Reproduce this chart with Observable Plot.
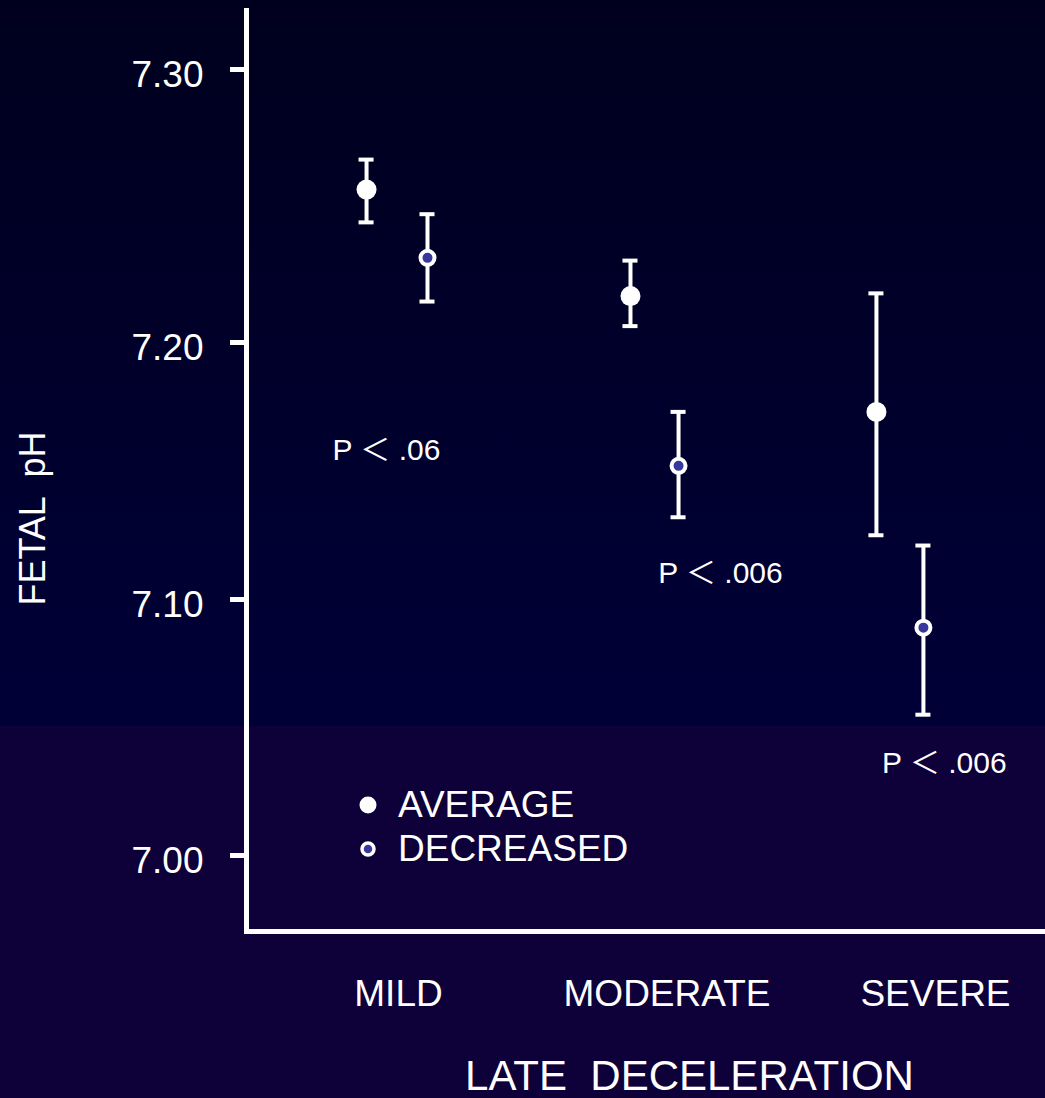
<!DOCTYPE html>
<html>
<head>
<meta charset="utf-8">
<script src="https://cdn.jsdelivr.net/npm/d3@7"></script>
<script src="https://cdn.jsdelivr.net/npm/@observablehq/plot@0.6"></script>
<style>
  html, body { margin: 0; padding: 0; }
  body {
    width: 1045px; height: 1098px; overflow: hidden; position: relative;
    background: linear-gradient(to bottom, #00001e 0px, #000038 726px, #0e0038 726px, #0e0038 1098px);
    font-family: "Liberation Sans", Arial, sans-serif; color: white;
  }
  #chart { position: absolute; left: 0; top: 0; }
  #legend { position: absolute; left: 358px; top: 783px; }
  .row { display: flex; align-items: center; height: 44px; line-height: 44px; font-size: 37px; }
  .row svg { margin-right: 20px; }
</style>
</head>
<body>
<div id="chart"></div>
<div id="legend"></div>
<script>
// ---- data ----
const categories = ["MILD", "MODERATE", "SEVERE"];
const categoryTicks = [1, 2, 3];
const series = ["AVERAGE", "DECREASED"];

// x position (in category units) of each plotted point
const avgX = [0.881, 1.864, 2.780];
const decX = [1.108, 2.043, 2.955];

// fetal pH mean and error-bar ends
const avgMean = [7.256, 7.217, 7.173];
const avgLow  = [7.244, 7.206, 7.125];
const avgHigh = [7.267, 7.230, 7.218];
const decMean = [7.231, 7.152, 7.089];
const decLow  = [7.215, 7.132, 7.055];
const decHigh = [7.247, 7.173, 7.121];

// significance annotations
const pLabels = ["P \uFF1C .06", "P \uFF1C .006", "P \uFF1C .006"];
const pX = [0.955, 2.199, 3.033];
const pY = [7.158, 7.110, 7.036];

const yTicks = [7.00, 7.10, 7.20, 7.30];
// the original axis is drawn with slightly uneven tick spacing
const yTickSpacing = [0, 256, 513, 786];

// ---- tables ----
const avg = categories.map((c, i) => ({cat: c, x: avgX[i], mean: avgMean[i], low: avgLow[i], high: avgHigh[i]}));
const dec = categories.map((c, i) => ({cat: c, x: decX[i], mean: decMean[i], low: decLow[i], high: decHigh[i]}));
const both = avg.concat(dec);
const ann = pLabels.map((t, i) => ({text: t, x: pX[i], y: pY[i]}));

const warp = d3.scaleLinear().domain(yTicks).range(yTickSpacing);

const capHalf = 0.028;
const font = "Liberation Sans, Arial, sans-serif";
const blue = "#38389c";

const chart = Plot.plot({
  width: 1045,
  height: 1098,
  marginLeft: 246,
  marginRight: 0,
  marginTop: 10,
  marginBottom: 167,
  style: {background: "transparent", color: "white", fontFamily: font, overflow: "visible"},
  x: {domain: [1, 3], range: [398, 935]},
  y: {transform: v => warp(v), domain: [0, 786], range: [855, 69]},
  marks: [
    Plot.frame({anchor: "left", stroke: "white", strokeWidth: 5}),
    Plot.frame({anchor: "bottom", stroke: "white", strokeWidth: 5}),
    // tick marks
    Plot.axisY({ticks: yTicks.map(warp), tickFormat: () => "", tickSize: 16, strokeWidth: 5, label: null}),
    // tick labels (sit slightly below their ticks in the original)
    Plot.axisY({ticks: yTicks.map(warp), tickFormat: d => warp.invert(d).toFixed(2), tickSize: 0, tickPadding: 43,
      fontSize: 37, label: null, dy: 6}),
    Plot.axisX({ticks: categoryTicks, tickFormat: d => categories[d - 1], tickSize: 0, tickPadding: 48,
      fontSize: 37, label: null}),
    Plot.text(["FETAL  pH"], {frameAnchor: "left", rotate: -90, dx: -213, dy: 47.5,
      fontSize: 36, lineAnchor: "middle", textAnchor: "middle", fill: "white"}),
    Plot.text(["LATE  DECELERATION"], {frameAnchor: "bottom", dx: 43.5, dy: 145,
      fontSize: 42, lineAnchor: "middle", textAnchor: "middle", fill: "white"}),
    // error bars
    Plot.ruleX(both, {x: "x", y1: "low", y2: "high", stroke: "white", strokeWidth: 4}),
    Plot.ruleY(both, {y: "high", x1: d => d.x - capHalf, x2: d => d.x + capHalf, stroke: "white", strokeWidth: 4}),
    Plot.ruleY(both, {y: "low", x1: d => d.x - capHalf, x2: d => d.x + capHalf, stroke: "white", strokeWidth: 4}),
    // points
    Plot.dot(avg, {x: "x", y: "mean", r: 10, fill: "white", stroke: "none"}),
    Plot.dot(dec, {x: "x", y: "mean", r: 7, fill: blue, stroke: "white", strokeWidth: 4}),
    // annotations
    Plot.text(ann, {x: "x", y: "y", text: "text", fontSize: 30, fill: "white", lineAnchor: "middle", textAnchor: "middle",
      fontFamily: "Liberation Sans, Noto Sans CJK JP, sans-serif"})
  ]
});
document.getElementById("chart").appendChild(chart);

// legend
const legend = document.getElementById("legend");
series.forEach((s, i) => {
  const row = document.createElement("div");
  row.className = "row";
  const sw = i === 0
    ? `<svg width="20" height="20"><circle cx="10" cy="10" r="8.5" fill="white"/></svg>`
    : `<svg width="20" height="20"><circle cx="10" cy="10" r="6" fill="${blue}" stroke="white" stroke-width="3.5"/></svg>`;
  row.innerHTML = sw + `<span>${s}</span>`;
  legend.appendChild(row);
});
</script>
</body>
</html>
